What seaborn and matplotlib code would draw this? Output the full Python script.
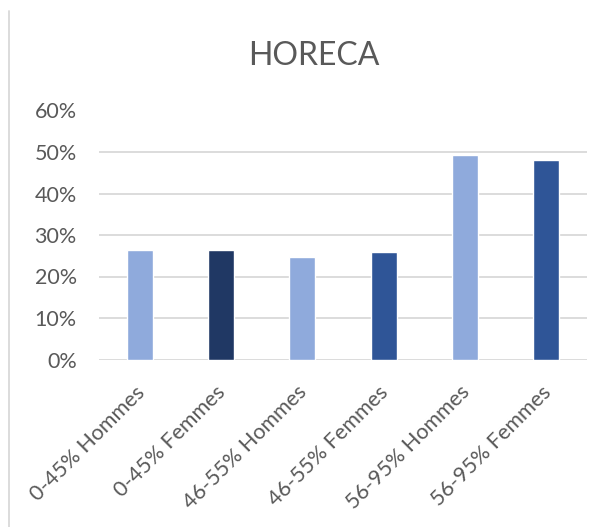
import matplotlib
matplotlib.use("Agg")
import matplotlib.pyplot as plt
import matplotlib.transforms as mtransforms
import seaborn as sns
import pandas as pd
from matplotlib.ticker import PercentFormatter
from matplotlib.lines import Line2D

categories = ["0-45% Hommes", "0-45% Femmes", "46-55% Hommes",
              "46-55% Femmes", "56-95% Hommes", "56-95% Femmes"]
values = [26.3, 26.5, 24.8, 26.0, 49.2, 48.0]
colors = ["#8FAADC", "#203864", "#8FAADC", "#2F5597", "#8FAADC", "#2F5597"]
yticks = [0, 10, 20, 30, 40, 50, 60]
title = "HORECA"

sns.set_theme(style="white")
plt.rcParams["font.family"] = ["Lato", "DejaVu Sans"]

df = pd.DataFrame({"cat": categories, "val": values})

fig = plt.figure(figsize=(6.07, 5.27), dpi=100)
ax = fig.add_axes([99/607, (527-359.5)/527, (587-99)/607, (359.5-110.5)/527])

sns.barplot(data=df, x="cat", y="val", hue="cat", palette=colors,
            order=categories, hue_order=categories, width=0.32,
            legend=False, ax=ax, saturation=1)

ax.set_ylim(0, 60)
ax.set_xlim(-0.5, len(categories) - 0.5)
ax.set_yticks(yticks)
ax.yaxis.set_major_formatter(PercentFormatter(decimals=0))
ax.grid(axis="y", color="#D9D9D9", linewidth=1.3)
ax.set_axisbelow(True)
for s in ax.spines.values():
    s.set_visible(False)
ax.set_xlabel("")
ax.set_ylabel("")
ax.tick_params(axis="y", length=0, pad=16, labelsize=15.5, labelcolor="#595959")
ax.tick_params(axis="x", length=0, pad=0, labelsize=15.5, labelcolor="#595959")
ax.set_xticks(range(len(categories)))
ax.set_xticklabels(categories, rotation=45, ha="right", va="baseline",
                   rotation_mode="anchor")
offset = mtransforms.ScaledTranslation(6/100, -34/100, fig.dpi_scale_trans)
for lab in ax.get_xticklabels():
    lab.set_transform(lab.get_transform() + offset)

fig.text(314/607, 1 - 56/527, title, ha="center", va="center",
         fontsize=23, color="#595959")

fig.add_artist(Line2D([9/607, 9/607], [0, 1 - 11/527], transform=fig.transFigure,
                      color="#D9D9D9", linewidth=1.3))

fig.savefig("out.png", dpi=100, facecolor="white")
